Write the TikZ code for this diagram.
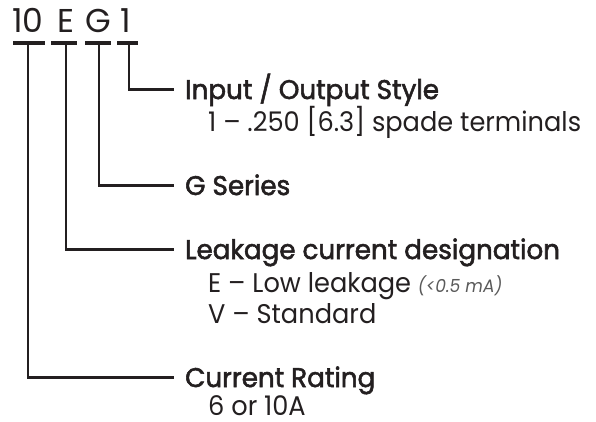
\documentclass[tikz,border=0pt]{standalone}
\usepackage{fontspec}
\setmainfont{Poppins}
\newfontfamily\headfont{Poppins}[FakeBold=2, FakeStretch=0.97]
\newfontfamily\itemfont{Poppins}[FakeStretch=0.95]
\definecolor{ink}{RGB}{35,31,32}
\definecolor{note}{RGB}{90,90,90}
\tikzset{
    code/.style={inner sep=0pt, anchor=base, font=\fontsize{33}{33}\selectfont},
    head/.style={inner xsep=12pt, inner ysep=0pt, text height=19pt, text depth=0pt,
        anchor=base west, font=\headfont\fontsize{27}{27}\selectfont},
    item/.style={inner sep=0pt, anchor=base west, font=\itemfont\fontsize{27}{27}\selectfont},
    lead/.style={line width=2.5pt, line cap=rect},
    bar/.style={line width=3.5pt}
}
\begin{document}
\begin{tikzpicture}[x=1pt, y=-1pt, color=ink]
        \useasboundingbox (0,0) rectangle (596,421);
        % part number
        \node[code] (c1) at (28,32) {10};
        \node[code] (c2) at (65.5,32) {E};
        \node[code] (c3) at (98.5,32) {G};
        \node[code] (c4) at (126,32) {1};
        \draw[bar] (13,43) --(45,43);
        \draw[bar] (51,43) --(77,43);
        \draw[bar] (85,43) --(111,43);
        \draw[bar] (117,43) --(138,43);
        \coordinate (b1) at (28,43);
        \coordinate (b2) at (66,43);
        \coordinate (b3) at (99,43);
        \coordinate (b4) at (129,43);

        % fields
        \node[head] (io) at (173,99) {Input / Output Style};
        \node[item] (io1) at (208,131) {1 – .250 [6.3] spade terminals};
        \node[head] (ser) at (173,195) {G Series};
        \node[head] (leak) at (173,259) {Leakage current designation};
        \node[item] (leak1) at (208,292) {E – Low leakage {\color{note}\itshape\fontsize{18}{18}\selectfont (<0.5 mA)}};
        \node[item] (leak2) at (208,323) {V – Standard};
        \node[head] (rate) at (173,387) {Current Rating};
        \node[item] (rate1) at (208,415) {6 or 10A};

        \draw[lead] (b4) |- (io.west);
        \draw[lead] (b3) |- (ser.west);
        \draw[lead] (b2) |- (leak.west);
        \draw[lead] (b1) |- (rate.west);
    \end{tikzpicture}
\end{document}
